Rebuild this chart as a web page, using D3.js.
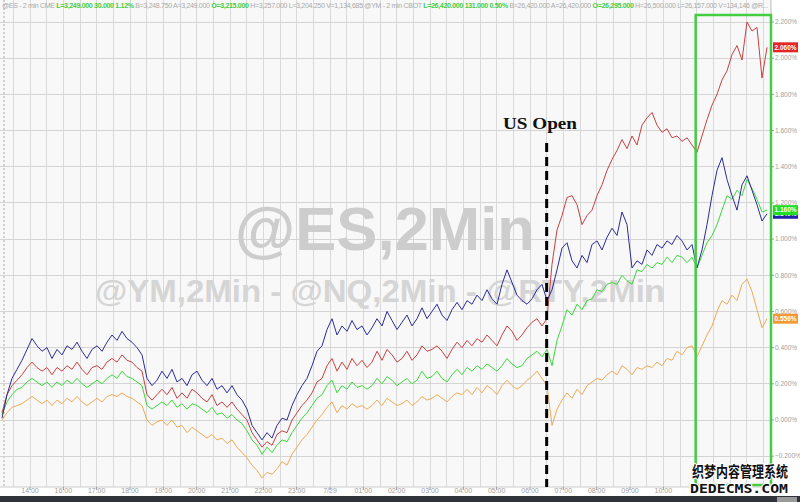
<!DOCTYPE html>
<html><head><meta charset="utf-8">
<script src="https://cdn.jsdelivr.net/npm/d3@7"></script>
<style>body{margin:0;background:#fff}svg{display:block}</style></head>
<body>
<svg id="c" width="800" height="502"></svg>
<script>
// ---- data ----
const tickLabels = ["14:00","16:00","17:00","18:00","19:00","20:00","21:00","22:00","23:00","7/29","01:00","02:00","03:00","04:00","05:00","06:00","07:00","08:00","09:00","10:00"];
const tickHours = [0,1,2,3,4,5,6,7,8,9,10,11,12,13,14,15,16,17,18,19];
const yTicks = [-0.2,0,0.2,0.4,0.6,0.8,1.0,1.2,1.4,1.6,1.8,2.0,2.2];
const startHour = -0.84, stepHour = 0.15;
const usOpenHour = 15.5;
const boxStartHour = 20;

const blue = [0.01,0.14,0.23,0.28,0.33,0.39,0.45,0.41,0.38,0.40,0.34,0.39,0.36,0.41,0.39,0.43,0.38,0.34,0.39,0.41,
0.38,0.43,0.47,0.44,0.49,0.45,0.43,0.40,0.36,0.23,0.19,0.22,0.27,0.23,0.28,0.21,0.23,0.19,0.25,0.27,
0.22,0.19,0.23,0.17,0.19,0.15,0.19,0.14,0.11,0.06,-0.03,-0.07,-0.11,-0.07,-0.10,-0.03,0.01,0.00,0.08,0.14,
0.19,0.23,0.30,0.38,0.41,0.50,0.56,0.47,0.52,0.49,0.55,0.50,0.52,0.47,0.51,0.56,0.52,0.60,0.55,0.50,
0.54,0.58,0.52,0.56,0.62,0.56,0.60,0.64,0.58,0.55,0.61,0.65,0.61,0.66,0.64,0.69,0.66,0.72,0.67,0.64,
0.75,0.83,0.76,0.69,0.66,0.64,0.67,0.72,0.75,0.66,0.72,0.83,0.95,0.98,0.88,0.84,0.91,0.87,0.97,0.99,
0.94,1.01,1.06,1.02,1.15,1.08,0.84,0.88,0.86,0.94,0.91,0.97,0.95,0.99,0.97,1.02,0.99,0.94,0.97,0.84,
0.94,1.08,1.24,1.38,1.45,1.33,1.24,1.16,1.30,1.35,1.27,1.19,1.10,1.14];

const red = [0.04,0.14,0.19,0.22,0.25,0.29,0.32,0.29,0.27,0.29,0.25,0.29,0.27,0.30,0.28,0.32,0.28,0.25,0.29,0.30,
0.28,0.32,0.34,0.32,0.36,0.33,0.32,0.29,0.27,0.14,0.11,0.14,0.17,0.14,0.18,0.12,0.15,0.12,0.17,0.15,
0.12,0.10,0.14,0.08,0.10,0.07,0.10,0.06,0.03,0.00,-0.07,-0.11,-0.15,-0.12,-0.14,-0.08,-0.06,-0.07,0.00,0.04,
0.08,0.11,0.15,0.21,0.23,0.30,0.34,0.27,0.32,0.28,0.34,0.30,0.33,0.29,0.32,0.38,0.33,0.39,0.36,0.32,
0.34,0.38,0.33,0.36,0.41,0.38,0.39,0.41,0.38,0.34,0.39,0.43,0.40,0.44,0.41,0.45,0.43,0.47,0.44,0.41,
0.47,0.52,0.49,0.44,0.47,0.51,0.54,0.56,0.52,0.56,0.86,1.05,1.13,1.23,1.24,1.19,1.08,1.13,1.16,1.24,
1.30,1.38,1.44,1.49,1.55,1.50,1.57,1.52,1.63,1.67,1.70,1.63,1.59,1.61,1.56,1.57,1.54,1.56,1.52,1.48,
1.57,1.66,1.74,1.80,1.88,1.93,2.02,2.07,1.99,2.20,2.15,2.17,1.89,2.06];

const green = [0.03,0.10,0.14,0.17,0.18,0.21,0.23,0.21,0.19,0.21,0.18,0.21,0.19,0.22,0.20,0.23,0.20,0.18,0.20,0.22,
0.20,0.23,0.25,0.23,0.27,0.24,0.23,0.21,0.19,0.08,0.06,0.08,0.10,0.08,0.11,0.07,0.09,0.06,0.09,0.08,
0.06,0.04,0.07,0.03,0.04,0.01,0.03,0.00,-0.02,-0.06,-0.11,-0.14,-0.19,-0.15,-0.18,-0.14,-0.11,-0.12,-0.07,-0.03,
0.01,0.04,0.08,0.12,0.14,0.19,0.22,0.15,0.19,0.17,0.21,0.18,0.19,0.17,0.19,0.23,0.20,0.24,0.22,0.19,
0.21,0.23,0.20,0.22,0.27,0.23,0.24,0.27,0.23,0.21,0.25,0.28,0.25,0.29,0.27,0.30,0.28,0.31,0.29,0.27,
0.30,0.34,0.31,0.29,0.30,0.34,0.36,0.38,0.35,0.39,0.30,0.44,0.52,0.61,0.58,0.64,0.61,0.66,0.67,0.72,
0.71,0.75,0.76,0.75,0.80,0.77,0.75,0.83,0.82,0.86,0.84,0.87,0.86,0.90,0.87,0.91,0.90,0.87,0.90,0.84,
0.91,0.98,1.02,1.08,1.16,1.24,1.22,1.27,1.24,1.33,1.28,1.22,1.15,1.16];

const orange = [0.00,0.04,0.07,0.08,0.09,0.11,0.13,0.11,0.09,0.11,0.08,0.11,0.09,0.12,0.10,0.13,0.10,0.08,0.10,0.12,
0.10,0.13,0.14,0.13,0.15,0.13,0.12,0.10,0.08,0.00,-0.03,-0.01,0.00,-0.03,0.00,-0.04,-0.03,-0.07,-0.04,-0.06,
-0.08,-0.10,-0.08,-0.11,-0.10,-0.13,-0.11,-0.15,-0.18,-0.21,-0.25,-0.28,-0.32,-0.29,-0.30,-0.27,-0.23,-0.25,-0.19,-0.15,
-0.11,-0.08,-0.04,0.00,0.03,0.07,0.10,0.04,0.08,0.06,0.09,0.07,0.08,0.06,0.08,0.11,0.08,0.12,0.10,0.08,
0.09,0.11,0.08,0.10,0.13,0.11,0.12,0.14,0.12,0.10,0.13,0.15,0.14,0.17,0.14,0.18,0.15,0.19,0.17,0.14,
0.19,0.22,0.19,0.17,0.19,0.22,0.24,0.27,0.23,0.19,-0.03,0.06,0.11,0.15,0.12,0.17,0.14,0.19,0.21,0.23,
0.22,0.25,0.27,0.25,0.30,0.28,0.25,0.29,0.28,0.30,0.29,0.32,0.30,0.34,0.33,0.38,0.36,0.40,0.41,0.35,
0.41,0.47,0.52,0.60,0.66,0.64,0.69,0.66,0.75,0.78,0.71,0.61,0.51,0.56];

const seriesNames = ["orange","green","red","blue"];
const seriesColors = {red:"#c94040", blue:"#2b2b9c", green:"#3ad93a", orange:"#eeaa55"};
const tagColors = {red:"#e42525", blue:"#2424a8", green:"#22dd22", orange:"#f39a35"};
const tagTexts = {red:"2.060%", blue:"1.140%", green:"1.160%", orange:"0.556%"};
const tagOrder = ["orange","blue","green","red"];

// ---- drawing ----
const svg = d3.select("#c");
const W = 800, H = 502, plotR = 771, plotB = 487;
const x = d3.scaleLinear().domain([-0.9, 22.2]).range([0, 770]);
const y = d3.scaleLinear().domain([0, 2.2]).range([420, 22]);
const data = {blue, red, green, orange};

svg.append("rect").attr("width",W).attr("height",H).attr("fill","#ffffff");
svg.append("rect").attr("width",plotR).attr("height",plotB).attr("fill","#f8f8f8");

// vertical grid every half hour
const halfHours = d3.range(-0.5, 22.2, 0.5);
svg.append("g").selectAll("line").data(halfHours).join("line")
  .attr("x1",d=>x(d)).attr("x2",d=>x(d)).attr("y1",0).attr("y2",plotB)
  .attr("stroke","#d9d9d9").attr("stroke-width",1).attr("shape-rendering","crispEdges");
svg.append("line").attr("x1",4).attr("x2",4).attr("y1",0).attr("y2",plotB)
  .attr("stroke","#aaa").attr("stroke-dasharray","2,2");
// horizontal grid
svg.append("g").selectAll("line").data(yTicks).join("line")
  .attr("x1",0).attr("x2",plotR).attr("y1",d=>y(d)).attr("y2",d=>y(d))
  .attr("stroke","#d4d4d4").attr("stroke-width",1).attr("shape-rendering","crispEdges");

// watermarks
svg.append("text").attr("x",385).attr("y",250).attr("text-anchor","middle")
  .attr("font-family","Liberation Sans, Arial, sans-serif").attr("font-weight","bold")
  .attr("font-size",62).attr("fill","#cdcdcd").attr("textLength",300).attr("lengthAdjust","spacingAndGlyphs")
  .text("@ES,2Min");
svg.append("text").attr("x",380).attr("y",302).attr("text-anchor","middle")
  .attr("font-family","Liberation Sans, Arial, sans-serif").attr("font-weight","bold")
  .attr("font-size",32).attr("fill","#d5d5d5").attr("textLength",570).attr("lengthAdjust","spacingAndGlyphs")
  .text("@YM,2Min - @NQ,2Min - @RTY,2Min");

// right axis
const fmt = d3.format(".3f");
const ax = svg.append("g");
ax.append("line").attr("x1",plotR).attr("x2",plotR).attr("y1",0).attr("y2",plotB).attr("stroke","#bbb");
ax.selectAll(".tk").data(yTicks).join("line").attr("class","tk")
  .attr("x1",plotR).attr("x2",plotR+3).attr("y1",d=>y(d)).attr("y2",d=>y(d)).attr("stroke","#999");
ax.selectAll("text").data(yTicks).join("text")
  .attr("x",plotR+4).attr("y",d=>y(d)).attr("dy","0.35em")
  .attr("font-family","Liberation Sans, Arial, sans-serif").attr("font-size",6.5).attr("fill","#a0a0a0")
  .text(d=>fmt(d)+"%");

// bottom axis
const bx = svg.append("g");
bx.append("line").attr("x1",0).attr("x2",plotR).attr("y1",plotB).attr("y2",plotB).attr("stroke","#ccc");
bx.selectAll("line.t").data(tickHours).join("line").attr("class","t")
  .attr("x1",d=>x(d)).attr("x2",d=>x(d)).attr("y1",plotB).attr("y2",plotB+3).attr("stroke","#999");
bx.selectAll("text").data(tickHours).join("text")
  .attr("x",d=>x(d)).attr("y",493).attr("text-anchor","middle")
  .attr("font-family","Liberation Sans, Arial, sans-serif").attr("font-size",7).attr("fill","#a0a0a0")
  .text((d,i)=>tickLabels[i]);

// lines
const line = d3.line().x((d,i)=>x(startHour + i*stepHour)).y(d=>y(d));
seriesNames.forEach(n=>{
  svg.append("path").datum(data[n]).attr("d",line).attr("fill","none")
    .attr("stroke",seriesColors[n]).attr("stroke-width",1).attr("stroke-linejoin","round");
});

// US open marker
svg.append("line").attr("x1",x(usOpenHour)).attr("x2",x(usOpenHour)).attr("y1",143).attr("y2",plotB)
  .attr("stroke","#000").attr("stroke-width",3).attr("stroke-dasharray","9,5");
svg.append("text").attr("x",503).attr("y",129)
  .attr("font-family","Liberation Serif, Times New Roman, serif").attr("font-weight","bold")
  .attr("font-size",17).attr("fill","#111").attr("textLength",74).attr("lengthAdjust","spacingAndGlyphs")
  .text("US Open");

// green highlight box
svg.append("rect").attr("x",x(boxStartHour)-1).attr("y",15).attr("width",plotR-x(boxStartHour)+1).attr("height",470)
  .attr("fill","none").attr("stroke","#44cc44").attr("stroke-width",2.5);

// last-value tags
tagOrder.forEach(n=>{
  const arr = data[n]; const v = arr[arr.length-1];
  const g = svg.append("g");
  g.append("rect").attr("x",plotR+2).attr("y",y(v)-5).attr("width",25).attr("height",10).attr("fill",tagColors[n]);
  g.append("text").attr("x",plotR+3.5).attr("y",y(v)).attr("dy","0.35em")
    .attr("font-family","Liberation Sans, Arial, sans-serif").attr("font-size",6.5).attr("font-weight","bold")
    .attr("fill","#fff").text(tagTexts[n]);
});

// header
const hdr = svg.append("text").attr("x",2).attr("y",8)
  .attr("font-family","Liberation Sans, Arial, sans-serif").attr("font-size",7).attr("fill","#aaaaaa")
  .attr("textLength",766).attr("lengthAdjust","spacing");
const parts = [
  ["@ES - 2 min CME ",0],["L=3,249.000  30.000  1.12% ",1],["B=3,248.750  A=3,249.000 ",0],["O=3,215.000 ",1],
  ["H=3,257.000  L=3,204.250  V=1,134,685  @YM - 2 min CBOT ",0],["L=26,420.000  131.000  0.50% ",1],
  ["B=26,420.000  A=26,420.000 ",0],["O=26,295.000 ",1],["H=26,500.000  L=26,157.000  V=134,146  @R...",0]
];
parts.forEach(p=>hdr.append("tspan").attr("fill",p[1]?"#44cc44":"#aaaaaa").attr("font-weight",p[1]?"bold":"normal").text(p[0]));

// bottom dark bar
svg.append("rect").attr("x",0).attr("y",496).attr("width",W).attr("height",6).attr("fill","#30343a");
svg.append("rect").attr("x",777).attr("y",497).attr("width",20).attr("height",5).attr("fill","#9a9a9a");

// site watermark
svg.append("text").attr("x",692).attr("y",477)
  .attr("font-family","Noto Sans CJK SC, sans-serif").attr("font-weight","bold").attr("font-size",15)
  .attr("fill","#111").attr("stroke","#fff").attr("stroke-width",2).attr("paint-order","stroke")
  .attr("textLength",96).attr("lengthAdjust","spacingAndGlyphs").text("织梦内容管理系统");
svg.append("text").attr("x",690).attr("y",493)
  .attr("font-family","DejaVu Sans Mono, monospace").attr("font-weight","bold").attr("font-size",13)
  .attr("fill","#111").attr("stroke","#fff").attr("stroke-width",2).attr("paint-order","stroke")
  .attr("textLength",98).attr("lengthAdjust","spacingAndGlyphs").text("DEDECMS.COM");
</script>
</body></html>
